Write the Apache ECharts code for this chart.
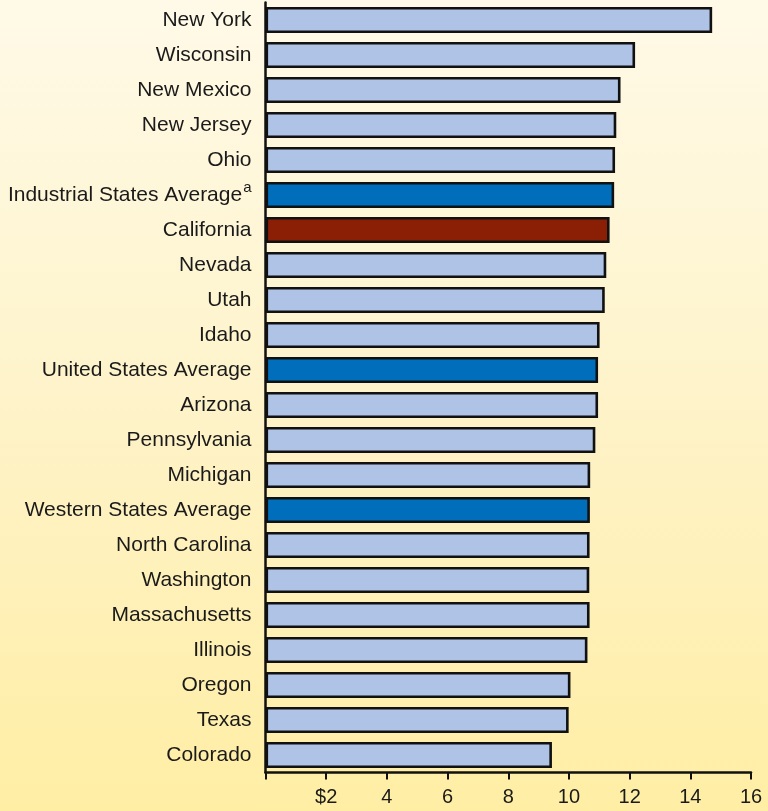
<!DOCTYPE html>
<html>
<head>
<meta charset="utf-8">
<script src="https://cdn.jsdelivr.net/npm/echarts@6/dist/echarts.min.js"></script>
<style>
  html, body { margin: 0; padding: 0; }
  #chart { width: 768px; height: 811px; background: linear-gradient(to bottom, #FFFAE8 0%, #FEF3C9 50%, #FFEEA4 100%); }
</style>
</head>
<body>
<div id="chart"></div>
<script>
const categories = [
  'New York', 'Wisconsin', 'New Mexico', 'New Jersey', 'Ohio',
  'Industrial States Average', 'California', 'Nevada', 'Utah', 'Idaho',
  'United States Average', 'Arizona', 'Pennsylvania', 'Michigan',
  'Western States Average', 'North Carolina', 'Washington', 'Massachusetts',
  'Illinois', 'Oregon', 'Texas', 'Colorado'
];
const values = [
  14.72, 12.18, 11.70, 11.56, 11.52,
  11.49, 11.34, 11.23, 11.18, 11.01,
  10.96, 10.96, 10.87, 10.70,
  10.69, 10.68, 10.67, 10.68,
  10.61, 10.05, 9.99, 9.44
];
// kind of each bar: s = state, a = average, c = California
const kinds = [
  's', 's', 's', 's', 's',
  'a', 'c', 's', 's', 's',
  'a', 's', 's', 's',
  'a', 's', 's', 's',
  's', 's', 's', 's'
];
const footnoted = ['Industrial States Average'];
const tickValues = [0, 2, 4, 6, 8, 10, 12, 14, 16];
const tickLabels = ['', '$2', '4', '6', '8', '10', '12', '14', '16'];

const kindColors = { s: '#AEC3E5', a: '#006EBA', c: '#8A1F06' };
const FONT = 'Liberation Sans, Arial, Helvetica, sans-serif';

const chart = echarts.init(document.getElementById('chart'), null, { renderer: 'canvas' });
chart.setOption({
  backgroundColor: 'transparent',
  animation: false,
  grid: { left: 265.5, right: 17, top: 2.5, bottom: 38.5, containLabel: false },
  xAxis: {
    type: 'value',
    min: 0, max: 16, interval: 2,
    axisLine: { show: true, lineStyle: { color: '#111', width: 2.5 } },
    axisTick: { show: true, inside: false, length: 7, lineStyle: { color: '#111', width: 2 } },
    splitLine: { show: false },
    axisLabel: {
      margin: 15,
      fontFamily: FONT,
      fontSize: 20,
      color: '#1a1a1a',
      formatter: function (v) {
        const i = tickValues.indexOf(v);
        return i >= 0 ? tickLabels[i] : '';
      }
    }
  },
  yAxis: {
    type: 'category',
    inverse: true,
    data: categories,
    axisLine: { show: true, lineStyle: { color: '#111', width: 2.5 } },
    axisTick: { show: false },
    axisLabel: {
      margin: 14,
      fontFamily: FONT,
      fontSize: 21,
      lineHeight: 30,
      color: '#1a1a1a',
      formatter: function (v) {
        return footnoted.indexOf(v) >= 0 ? v + '{sup|a}' : v;
      },
      rich: {
        sup: {
          fontFamily: FONT,
          fontSize: 15,
          color: '#1a1a1a',
          verticalAlign: 'top',
          lineHeight: 16,
          padding: [0, 0, 0, 1]
        }
      }
    }
  },
  series: [{
    type: 'bar',
    barWidth: 26,
    data: values.map(function (v, i) {
      return {
        value: v,
        itemStyle: { color: kindColors[kinds[i]], borderColor: '#111', borderWidth: 2.6 }
      };
    })
  }]
});
</script>
</body>
</html>
